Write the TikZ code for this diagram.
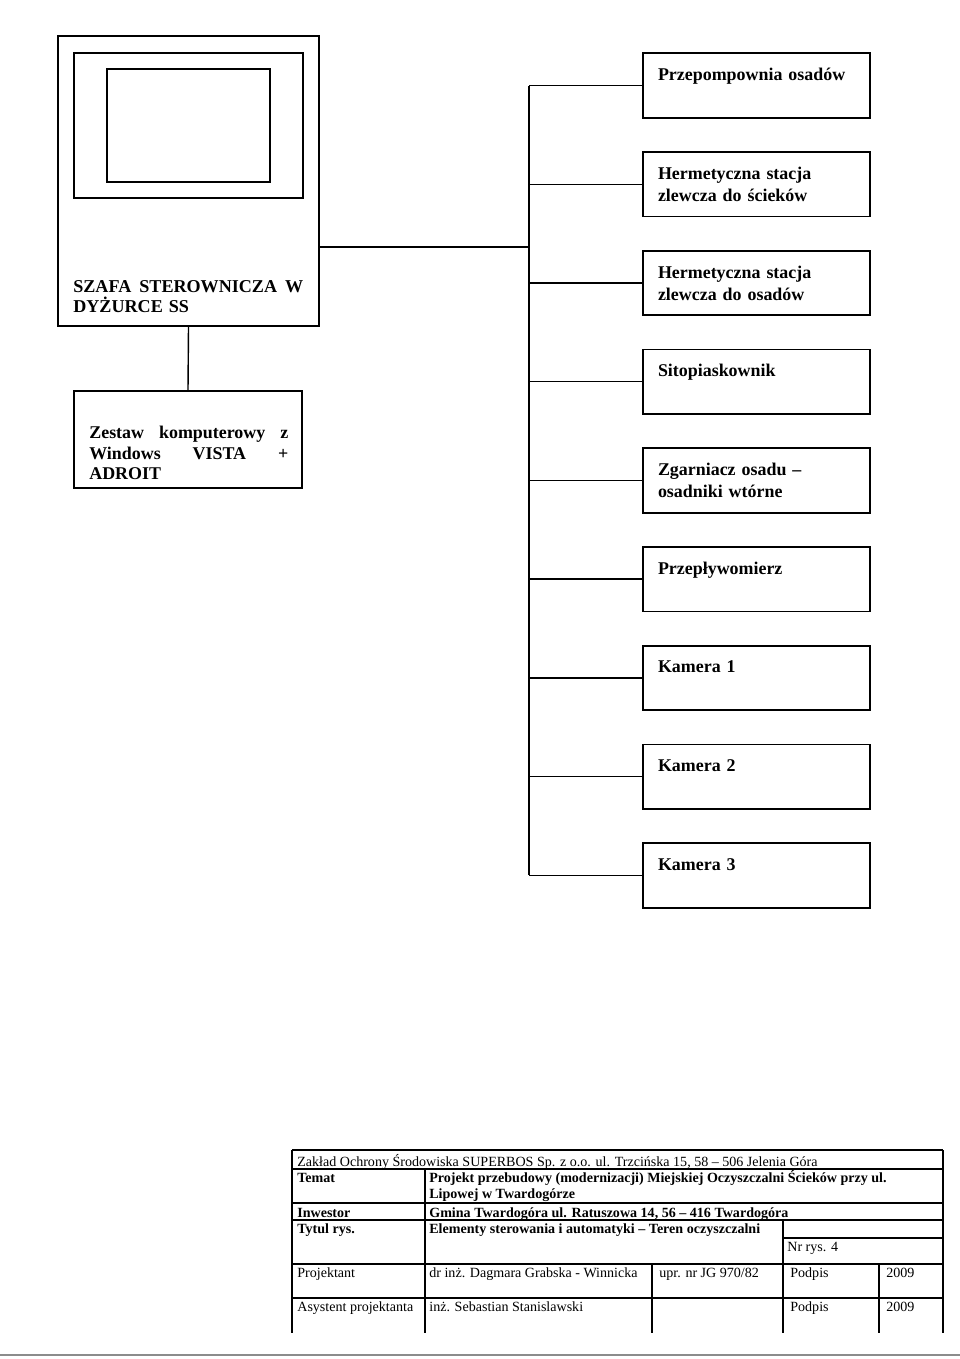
\documentclass[tikz,border=0pt]{standalone}
\usepackage{fontspec}
\setmainfont{Liberation Serif}
\usetikzlibrary{positioning}
\tikzset{
  unitbox/.style={rectangle, draw, line width=1pt, minimum width=4.54cm,
    minimum height=1.29cm, text width=3.94cm, inner xsep=0.3cm, align=left,
    font=\fontsize{10.2}{12.5}\selectfont\bfseries},
  frame/.style={draw, line width=1pt},
  conn/.style={line width=0.8pt},
  tabline/.style={line width=0.6pt},
  tabtxt/.style={anchor=base west, inner sep=0pt, font=\fontsize{8}{9}\selectfont},
  tabbold/.style={tabtxt, font=\fontsize{8}{9}\selectfont\bfseries}
}
\begin{document}
\begin{tikzpicture}[x=0.02cm, y=-0.02cm, node distance=0.65cm]
  \useasboundingbox (0,0) rectangle (960,1359);
  % szafa sterownicza
  \node[frame, minimum width=5.22cm, minimum height=5.8cm] (szafa) at (188.5,181) {};
  \draw[frame] (74,53) rectangle (303,198);
  \draw[frame] (107,69) rectangle (270,182);
  \node[anchor=north west, inner sep=0pt, text width=4.6cm, align=left,
    font=\fontsize{10.3}{11.4}\selectfont\bfseries] (szafatxt) at (73,280)
    {SZAFA\hfill STEROWNICZA\hfill W\\DYŻURCE SS};
  % komputer
  \node[frame, minimum width=4.56cm, minimum height=1.94cm] (komputer) at (188,439.5) {};
  \node[anchor=north west, inner sep=0pt, text width=3.98cm, align=left,
    font=\fontsize{10.2}{11.7}\selectfont\bfseries] (komputertxt) at (89,426)
    {Zestaw\hfill komputerowy\hfill z\\Windows\hfill VISTA\hfill +\\ADROIT};
  \draw[conn] (szafa.south) -- (komputer.north);
  % obiekty
  \node[unitbox] (pomp) at (756.5,85.5) {Przepompownia osadów\\\mbox{}};
  \node[unitbox, below=of pomp] (stscieki) {Hermetyczna stacja\\zlewcza do ścieków};
  \node[unitbox, below=of stscieki] (stosady) {Hermetyczna stacja\\zlewcza do osadów};
  \node[unitbox, below=of stosady] (sito) {Sitopiaskownik\\\mbox{}};
  \node[unitbox, below=of sito] (zgarniacz) {Zgarniacz osadu --\\osadniki wtórne};
  \node[unitbox, below=of zgarniacz] (przeplyw) {Przepływomierz\\\mbox{}};
  \node[unitbox, below=of przeplyw] (kam1) {Kamera 1\\\mbox{}};
  \node[unitbox, below=of kam1] (kam2) {Kamera 2\\\mbox{}};
  \node[unitbox, below=of kam2] (kam3) {Kamera 3\\\mbox{}};
  % magistrala
  \coordinate (bus) at (529,0);
  \coordinate (tap) at (529,247);
  \draw[conn] (szafa.east |- tap) -- (tap);
  \draw[conn] (pomp.west -| bus) -- (kam3.west -| bus);
  \draw[conn] (pomp.west) -- (pomp.west -| bus);
  \draw[conn] (stscieki.west) -- (stscieki.west -| bus);
  \draw[conn] (stosady.west) -- (stosady.west -| bus);
  \draw[conn] (sito.west) -- (sito.west -| bus);
  \draw[conn] (zgarniacz.west) -- (zgarniacz.west -| bus);
  \draw[conn] (przeplyw.west) -- (przeplyw.west -| bus);
  \draw[conn] (kam1.west) -- (kam1.west -| bus);
  \draw[conn] (kam2.west) -- (kam2.west -| bus);
  \draw[conn] (kam3.west) -- (kam3.west -| bus);
  % tabelka
  \draw[tabline] (292,1150) -- (943,1150);
  \draw[tabline] (292,1169) -- (943,1169);
  \draw[tabline] (292,1203) -- (943,1203);
  \draw[tabline] (292,1220) -- (943,1220);
  \draw[tabline] (783,1238) -- (943,1238);
  \draw[tabline] (292,1264) -- (943,1264);
  \draw[tabline] (292,1298) -- (943,1298);
  \draw[tabline] (292,1150) -- (292,1333);
  \draw[tabline] (943,1150) -- (943,1333);
  \draw[tabline] (425,1169) -- (425,1333);
  \draw[tabline] (652,1264) -- (652,1333);
  \draw[tabline] (783,1220) -- (783,1333);
  \draw[tabline] (879,1264) -- (879,1333);
  \node[tabtxt] (firma) at (297,1166)
    {Zakład Ochrony Środowiska SUPERBOS Sp. z o.o. ul. Trzcińska 15, 58 – 506 Jelenia Góra};
  \node[tabbold] (temat) at (297,1182) {Temat};
  \node[tabbold] (projekt) at (429,1182)
    {Projekt przebudowy (modernizacji) Miejskiej Oczyszczalni Ścieków przy ul.};
  \node[tabbold] (projektb) at (429,1198) {Lipowej w Twardogórze};
  \node[tabbold] (inwestor) at (297,1217) {Inwestor};
  \node[tabbold] (gmina) at (429,1217) {Gmina Twardogóra ul. Ratuszowa 14, 56 – 416 Twardogóra};
  \node[tabbold] (tytul) at (297,1233) {Tytul rys.};
  \node[tabbold] (elementy) at (429,1233) {Elementy sterowania i automatyki – Teren oczyszczalni};
  \node[tabtxt] (nrrys) at (787,1251) {Nr rys. 4};
  \node[tabtxt] (projektant) at (297,1277) {Projektant};
  \node[tabtxt] (dr) at (429,1277) {dr inż. Dagmara Grabska - Winnicka};
  \node[tabtxt] (upr) at (659,1277) {upr. nr JG 970/82};
  \node[tabtxt] (podpisa) at (790,1277) {Podpis};
  \node[tabtxt] (rokA) at (886,1277) {2009};
  \node[tabtxt] (asystent) at (297,1311) {Asystent projektanta};
  \node[tabtxt] (inz) at (429,1311) {inż. Sebastian Stanislawski};
  \node[tabtxt] (podpisb) at (790,1311) {Podpis};
  \node[tabtxt] (rokB) at (886,1311) {2009};
  % krawedz skanu
  \draw[black!45, line width=0.6pt] (0,1355) -- (960,1355);
\end{tikzpicture}
\end{document}
